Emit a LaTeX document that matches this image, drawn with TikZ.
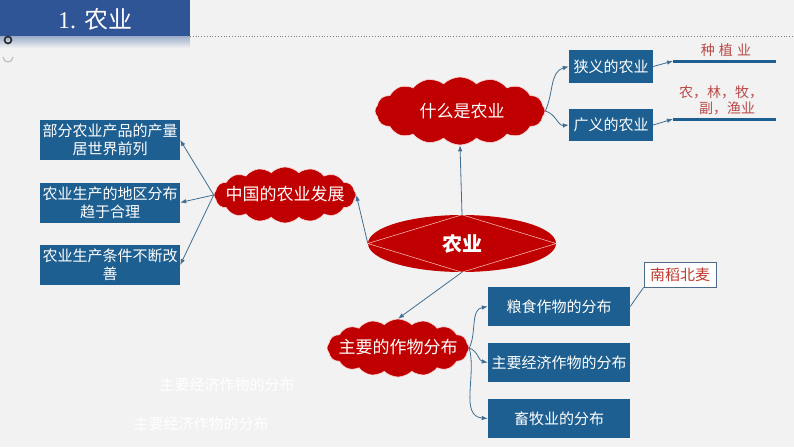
\documentclass[tikz,border=0pt]{standalone}
\usepackage{fontspec}
\newfontfamily\cjk{Noto Sans CJK SC}
\newfontfamily\cjksp[LetterSpace=30]{Noto Sans CJK SC}
\newfontfamily\latinser{Liberation Serif}
\usetikzlibrary{shapes.symbols,shapes.geometric,arrows.meta}
\definecolor{bgc}{HTML}{F2F2F2}
\definecolor{titleblue}{HTML}{2F5597}
\definecolor{boxblue}{HTML}{1E5F91}
\definecolor{cloudred}{HTML}{C00000}
\definecolor{conn}{HTML}{3F6E94}
\definecolor{labred}{HTML}{B94A48}
\definecolor{ndred}{HTML}{C0392B}
\definecolor{ndborder}{HTML}{4F6A8A}
\tikzset{
  bluebox/.style={rectangle, fill=boxblue, text=white, inner sep=0pt, align=center,
    font=\cjk\fontsize{15}{18}\selectfont},
  redcloud/.style={cloud, cloud puffs=16, cloud puff arc=90, cloud ignores aspect,
    fill=cloudred, draw=white!85!red, line width=0.6pt, inner sep=0pt},
  cloudtext/.style={text=white, inner sep=0pt, font=\cjk\fontsize{17}{20}\selectfont},
  conline/.style={draw=conn, line width=0.8pt},
  conarrow/.style={conline, -{Latex[length=6pt,width=4.5pt]}},
  thickline/.style={draw=boxblue, line width=3pt},
  redlab/.style={text=labred, inner sep=0pt, font=\cjk\fontsize{14}{16}\selectfont},
  ghost/.style={text=white, inner sep=0pt, font=\cjk\fontsize{15}{18}\selectfont}
}
\begin{document}
\begin{tikzpicture}[x=1pt,y=-1pt]
\useasboundingbox (0,0) rectangle (794,447);
\fill[bgc] (0,0) rectangle (794,447);
% title bar
\shade[top color=titleblue!45!bgc, bottom color=bgc] (0,36) rectangle (190,48);
\fill[titleblue] (0,0) rectangle (190,36);
\node[text=white, inner sep=0pt, font=\fontsize{24}{26}\selectfont] (title) at (95,19) {\latinser 1. \cjk 农业};
\draw[gray, line width=0.8pt, dotted] (190,36.5) -- (794,36.5);
\draw[black!85, line width=1.6pt] (8,40) circle (3.5);
\draw[gray!50, line width=1.2pt] (3,57) arc (180:0:5);

% top cloud
\node[redcloud, minimum width=170, minimum height=68] (what) at (460,111) {};
\node[cloudtext] (whatlab) at (462,111) {什么是农业};
\node[bluebox, minimum width=84, minimum height=33] (narrow) at (611,66.5) {狭义的农业};
\node[bluebox, minimum width=84, minimum height=32] (broad) at (611,125) {广义的农业};
\coordinate (l1s) at (673,61);
\coordinate (l1e) at (776,61);
\coordinate (l2s) at (673,119);
\coordinate (l2e) at (776,119);
\draw[thickline] (l1s) -- (l1e);
\draw[thickline] (l2s) -- (l2e);
\draw[conarrow] (narrow.east) -- (l1s);
\draw[conarrow] (broad.east) -- (l2s);
\node[redlab] (zhongzhi) at (726,50) {\cjksp 种植业};
\node[redlab] (nonglin1) at (721,92) {农，林，牧，};
\node[redlab] (nonglin2) at (727,108) {副，渔业};
\draw[conarrow] (what.east) to[out=65,in=195] (narrow.west);
\draw[conarrow] (what.east) to[out=-15,in=185] (broad.west);

% left cloud
\node[redcloud, minimum width=142, minimum height=56] (china) at (285,195) {};
\node[cloudtext] (chinalab) at (285,194) {中国的农业发展};
\node[bluebox, minimum width=140, minimum height=40] (b1) at (110,140) {部分农业产品的产量\\居世界前列};
\node[bluebox, minimum width=140, minimum height=40] (b2) at (110,202.5) {农业生产的地区分布\\趋于合理};
\node[bluebox, minimum width=140, minimum height=40] (b3) at (110,265) {农业生产条件不断改\\善};
\draw[conarrow] (china.west) -- (b1.east);
\draw[conarrow] (china.west) -- (b2.east);
\draw[conarrow] (china.west) -- (b3.east);

% bottom cloud
\node[redcloud, minimum width=142, minimum height=58] (crops) at (398,348) {};
\node[cloudtext] (cropslab) at (398,347) {主要的作物分布};

% central ellipse
\node[ellipse, fill=cloudred, minimum width=188, minimum height=57, inner sep=0pt] (main) at (462,243.5) {};
\draw[white!80!red, line width=0.5pt] (main.west) -- (main.north) -- (main.east) -- (main.south) -- cycle;
\node[text=white, inner sep=0pt, font=\cjk\bfseries\fontsize{20}{22}\selectfont] (mainlab) at (462,243.5) {农业};
\draw[conarrow] (main.north) -- (what.south);
\draw[conarrow] (main.west) -- (china.east);
\draw[conarrow] (main.south) -- (crops.north);

\node[bluebox, minimum width=142, minimum height=39] (c1) at (559,306.5) {粮食作物的分布};
\node[bluebox, minimum width=142, minimum height=39] (c2) at (559,362.5) {主要经济作物的分布};
\node[bluebox, minimum width=142, minimum height=39] (c3) at (559,418.5) {畜牧业的分布};
\draw[conarrow] (crops.east) to[out=65,in=190] (c1.west);
\draw[conarrow] (crops.east) to[out=-20,in=170] (c2.west);
\draw[conarrow] (crops.east) to[out=-75,in=175] (c3.west);
\node[draw=ndborder, fill=white, line width=0.8pt, minimum width=72, minimum height=25, inner sep=0pt,
  text=ndred, font=\cjk\fontsize{15}{18}\selectfont] (ndbm) at (680,274.5) {南稻北麦};
\draw[conline] (c1.east) -- (ndbm.south west);

% ghost texts
\node[ghost] (g1) at (227,385) {主要经济作物的分布};
\node[ghost] (g2) at (201,424) {主要经济作物的分布};
\end{tikzpicture}
\end{document}
